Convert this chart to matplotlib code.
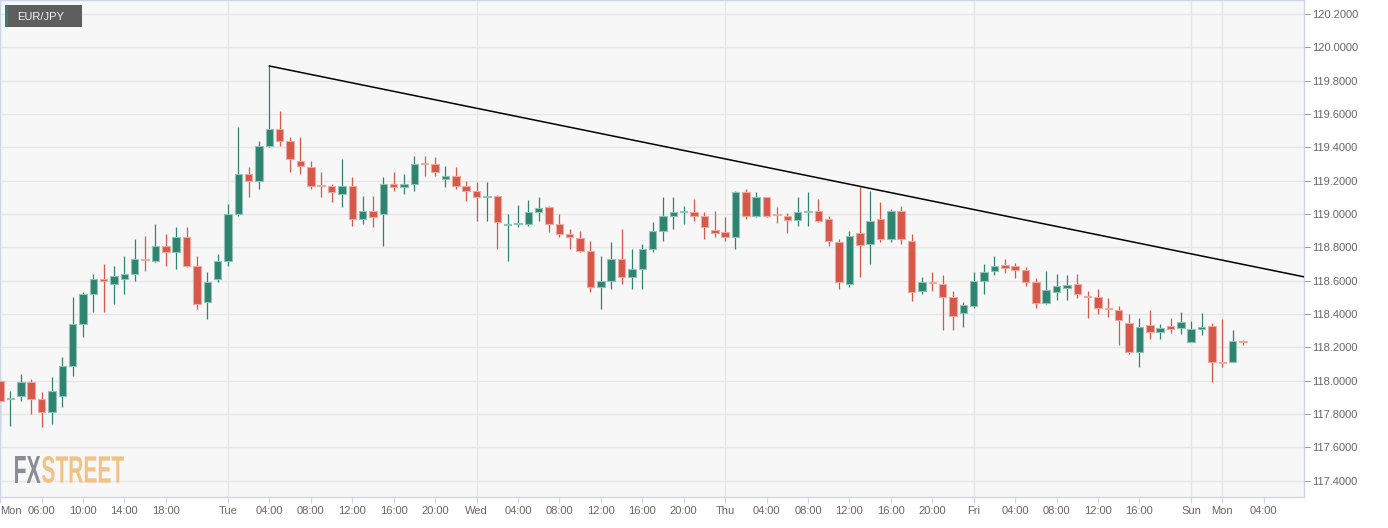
import numpy as np
import matplotlib
matplotlib.use("Agg")
import matplotlib.pyplot as plt
import matplotlib.transforms as mtransforms
from matplotlib.patches import Rectangle, PathPatch
from matplotlib.textpath import TextPath
from matplotlib.font_manager import FontProperties

plt.rcParams['font.family'] = ['Liberation Sans', 'DejaVu Sans']

# hourly EUR/JPY bars, weekend removed (Sun 21:00 follows Fri 20:00)
hours = np.arange(2, 123)
opens = [118.00, 117.89, 117.91, 117.99, 117.89, 117.81, 117.91, 118.09, 118.34, 118.52,
         118.61, 118.58, 118.61, 118.64, 118.73, 118.72, 118.81, 118.77, 118.86, 118.69,
         118.47, 118.61, 118.72, 119.00, 119.24, 119.20, 119.41, 119.51, 119.44, 119.32,
         119.28, 119.176, 119.17, 119.12, 119.17, 118.97, 119.02, 119.00, 119.18, 119.164,
         119.18, 119.306, 119.30, 119.21, 119.23, 119.17, 119.14, 119.10, 119.11, 118.937,
         118.94, 118.943, 119.014, 119.04, 118.94, 118.88, 118.855, 118.78, 118.56, 118.60,
         118.73, 118.62, 118.67, 118.79, 118.90, 118.99, 119.012, 119.01, 118.99, 118.905,
         118.89, 118.86, 119.13, 118.99, 119.10, 119.00, 118.99, 118.964, 119.014, 119.02,
         118.97, 118.83, 118.58, 118.885, 118.82, 118.97, 118.85, 119.02, 118.84, 118.537,
         118.592, 118.58, 118.50, 118.408, 118.448, 118.60, 118.661, 118.695, 118.691, 118.665,
         118.59, 118.467, 118.533, 118.556, 118.582, 118.51, 118.505, 118.438, 118.424, 118.349,
         118.17, 118.333, 118.295, 118.329, 118.317, 118.234, 118.312, 118.33, 118.114, 118.114,
         118.24]
highs = [118.01, 117.94, 118.04, 118.01, 117.93, 118.02, 118.14, 118.50, 118.53, 118.64,
         118.70, 118.69, 118.75, 118.85, 118.87, 118.94, 118.88, 118.92, 118.92, 118.75,
         118.65, 118.76, 119.06, 119.52, 119.28, 119.44, 119.89, 119.62, 119.46, 119.46,
         119.32, 119.25, 119.18, 119.33, 119.22, 119.11, 119.11, 119.22, 119.25, 119.24,
         119.35, 119.35, 119.34, 119.29, 119.28, 119.20, 119.19, 119.19, 119.115, 119.00,
         119.055, 119.085, 119.105, 119.05, 119.00, 118.91, 118.90, 118.84, 118.75, 118.83,
         118.91, 118.79, 118.82, 118.95, 119.10, 119.10, 119.046, 119.09, 119.01, 119.02,
         118.98, 119.14, 119.15, 119.13, 119.10, 119.04, 119.006, 119.10, 119.13, 119.09,
         118.99, 118.85, 118.90, 119.164, 119.14, 119.075, 119.03, 119.046, 118.88, 118.624,
         118.655, 118.636, 118.537, 118.471, 118.653, 118.70, 118.75, 118.731, 118.709, 118.681,
         118.616, 118.659, 118.642, 118.636, 118.642, 118.537, 118.55, 118.497, 118.451, 118.398,
         118.378, 118.422, 118.343, 118.378, 118.412, 118.36, 118.408, 118.344, 118.37, 118.306,
         118.244]
lows = [117.70, 117.73, 117.88, 117.80, 117.72, 117.74, 117.84, 118.03, 118.26, 118.41,
        118.41, 118.46, 118.52, 118.60, 118.66, 118.71, 118.69, 118.67, 118.68, 118.43,
        118.37, 118.59, 118.69, 118.99, 119.10, 119.15, 119.40, 119.41, 119.25, 119.24,
        119.15, 119.10, 119.07, 119.04, 118.93, 118.94, 118.92, 118.81, 119.14, 119.12,
        119.14, 119.23, 119.23, 119.16, 119.15, 119.08, 118.96, 118.96, 118.79, 118.72,
        118.92, 118.93, 118.96, 118.89, 118.86, 118.79, 118.77, 118.53, 118.43, 118.55,
        118.58, 118.55, 118.55, 118.77, 118.84, 118.91, 118.94, 118.96, 118.85, 118.86,
        118.84, 118.79, 118.97, 118.98, 118.98, 118.945, 118.885, 118.93, 118.93, 118.95,
        118.81, 118.55, 118.56, 118.62, 118.70, 118.83, 118.83, 118.82, 118.48, 118.52,
        118.537, 118.305, 118.305, 118.32, 118.434, 118.523, 118.636, 118.646, 118.616, 118.566,
        118.438, 118.463, 118.483, 118.487, 118.497, 118.374, 118.398, 118.384, 118.214, 118.16,
        118.085, 118.25, 118.25, 118.285, 118.28, 118.23, 118.274, 117.994, 118.084, 118.11,
        118.214]
closes = [117.88, 117.895, 117.99, 117.89, 117.81, 117.94, 118.09, 118.34, 118.52, 118.61,
          118.60, 118.63, 118.64, 118.73, 118.724, 118.81, 118.77, 118.86, 118.69, 118.46,
          118.59, 118.72, 119.00, 119.24, 119.20, 119.41, 119.51, 119.44, 119.33, 119.29,
          119.17, 119.17, 119.13, 119.17, 118.97, 119.02, 118.98, 119.18, 119.164, 119.18,
          119.30, 119.30, 119.25, 119.23, 119.17, 119.14, 119.10, 119.106, 118.95, 118.94,
          118.945, 119.01, 119.034, 118.94, 118.88, 118.86, 118.78, 118.56, 118.60, 118.73,
          118.62, 118.67, 118.79, 118.90, 118.99, 119.01, 119.016, 118.99, 118.92, 118.887,
          118.86, 119.135, 118.99, 119.10, 118.99, 118.994, 118.966, 119.012, 119.02, 118.96,
          118.84, 118.59, 118.87, 118.814, 118.96, 118.85, 119.02, 118.85, 118.53, 118.594,
          118.584, 118.505, 118.39, 118.455, 118.60, 118.651, 118.691, 118.675, 118.665, 118.59,
          118.467, 118.543, 118.566, 118.572, 118.523, 118.505, 118.434, 118.428, 118.364, 118.174,
          118.325, 118.295, 118.319, 118.313, 118.352, 118.31, 118.324, 118.114, 118.108, 118.238,
          118.23]

tick_hours = [2, 6, 10, 14, 18, 24, 28, 32, 36, 40, 44, 48, 52, 56, 60, 64, 68,
              72, 76, 80, 84, 88, 92, 96, 100, 104, 108, 112, 117, 120, 124]
tick_labels = ['Mon', '06:00', '10:00', '14:00', '18:00', 'Tue', '04:00', '08:00', '12:00',
               '16:00', '20:00', 'Wed', '04:00', '08:00', '12:00', '16:00', '20:00', 'Thu',
               '04:00', '08:00', '12:00', '16:00', '20:00', 'Fri', '04:00', '08:00', '12:00',
               '16:00', 'Sun', 'Mon', '04:00']
day_lines = [24, 48, 72, 96, 117, 120]
price_ticks = [117.4, 117.6, 117.8, 118.0, 118.2, 118.4, 118.6, 118.8,
               119.0, 119.2, 119.4, 119.6, 119.8, 120.0, 120.2]

# resistance line anchors
trend_hours = [28, 127.84]
trend_prices = [119.888, 118.624]

W, H = 1388, 528
up_col, dn_col = '#2f8471', '#d5584a'
up_edge, dn_edge = '#8fc3b5', '#efa99f'
axis_col = '#ccd6eb'
grid_col = '#e6e6e6'
text_col = '#666666'

fig = plt.figure(figsize=(W / 100, H / 100), dpi=100, facecolor='white')
ax = fig.add_axes([0, 31 / H, 1303.5 / W, 497 / H])
ax.set_facecolor('#f7f7f7')

for y in price_ticks:
    ax.axhline(y, color=grid_col, lw=1, zorder=1)
for x in day_lines:
    ax.axvline(x, color=grid_col, lw=1, zorder=1)

for x, o, h, l, c in zip(hours, opens, highs, lows, closes):
    up = c >= o
    col = up_col if up else dn_col
    ax.vlines(x, l, h, color=col, lw=0.9, zorder=2)
    ax.add_patch(Rectangle((x - 0.36, min(o, c)), 0.72, abs(c - o),
                           facecolor=col, edgecolor=up_edge if up else dn_edge,
                           lw=0.8, zorder=3))

ax.plot(trend_hours, trend_prices, color='black', lw=1.1, zorder=4)

ax.set_xlim(1.99, 127.84)
ax.set_ylim(117.3026, 120.284)

ax.set_xticks(tick_hours)
ax.set_xticklabels(tick_labels)
ax.get_xticklabels()[0].set_horizontalalignment('left')
ax.yaxis.tick_right()
ax.set_yticks(price_ticks)
ax.set_yticklabels([f'{v:.4f}' for v in price_ticks])
ax.tick_params(axis='x', length=4.3, width=0.8, color=axis_col, labelcolor=text_col,
               labelsize=8, pad=2)
ax.tick_params(axis='y', length=4.3, width=0.8, color='#999999', labelcolor=text_col,
               labelsize=8, pad=2)
for s in ax.spines.values():
    s.set_color(axis_col)
    s.set_linewidth(1)

# symbol badge
def px_rect(x0, y0, x1, y1, color):
    fig.add_artist(Rectangle((x0 / W, 1 - y1 / H), (x1 - x0) / W, (y1 - y0) / H,
                             transform=fig.transFigure, facecolor=color,
                             edgecolor='none', zorder=10))

px_rect(5, 5, 82, 27, '#5e5e5e')
px_rect(5, 5, 7.7, 27, up_col)
fig.text(17 / W, 1 - 16.5 / H, 'EUR/JPY', color='#f2f2f2', fontsize=8,
         va='center', ha='left', zorder=11)

# watermark
logo_font = FontProperties(family=['Liberation Sans Narrow', 'Liberation Sans'], weight='bold')

def stretched_text(s, x0, y0, x1, y1, color):
    path = TextPath((0, 0), s, size=40, prop=logo_font)
    ext = path.get_extents()
    tr = (mtransforms.Affine2D()
          .translate(-ext.x0, -ext.y0)
          .scale((x1 - x0) / ext.width / W, (y1 - y0) / ext.height / H)
          .translate(x0 / W, 1 - y1 / H))
    fig.add_artist(PathPatch(path, facecolor=color, edgecolor='none',
                             transform=tr + fig.transFigure, zorder=5))

stretched_text('FX', 15, 456, 40.5, 483, '#8b8d94')
stretched_text('STREET', 42, 456, 124, 483, '#f0c285')

fig.savefig('out.png', dpi=100, facecolor='white')
